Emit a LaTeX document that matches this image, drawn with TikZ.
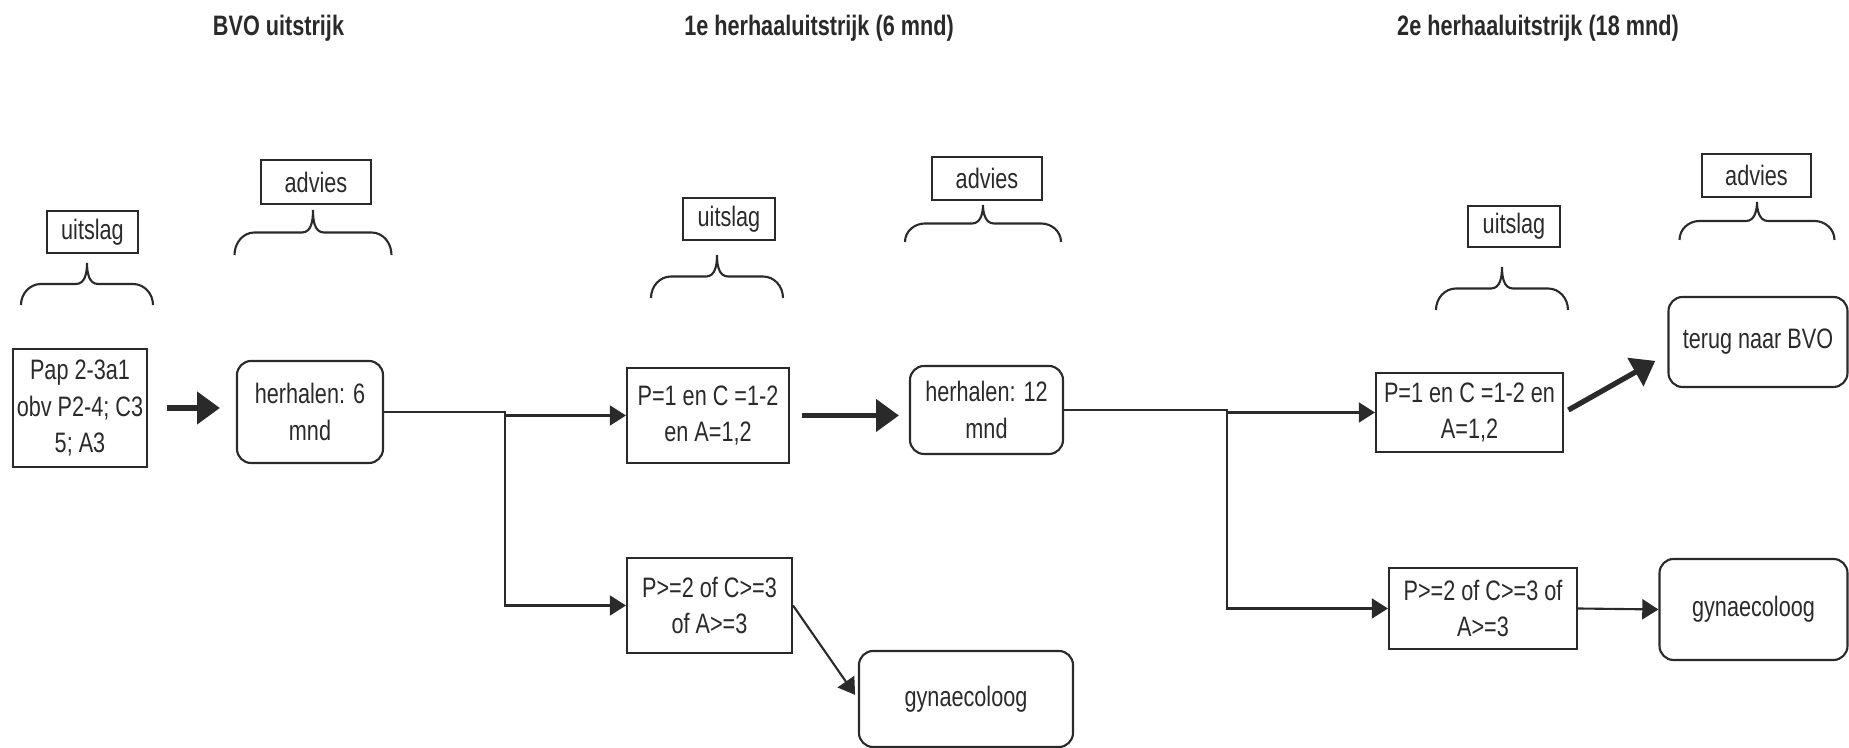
\documentclass[tikz,border=0pt]{standalone}
\usepackage{fontspec}
\setmainfont{Liberation Sans}[FakeStretch=0.77]
\usetikzlibrary{arrows.meta}
\definecolor{inkt}{HTML}{2A2A2A}

% accolade: tip x, tip y, half width, depth
\newcommand{\accolade}[4]{%
  \path[draw,inkt,line width=0.6pt] (#1-#3,#2-#4) to[out=90,in=180] (#1-#3+0.2,#2-#4/2)
    -- (#1-0.11,#2-#4/2) to[out=0,in=-90] (#1,#2) to[out=-90,in=180] (#1+0.11,#2-#4/2)
    -- (#1+#3-0.2,#2-#4/2) to[out=0,in=90] (#1+#3,#2-#4);}

\tikzset{
  every node/.style={font=\fontsize{8}{10.5}\selectfont, text=inkt},
  kop/.style={font=\fontsize{8}{10.5}\selectfont\bfseries},
  kader/.style={draw=inkt, line width=0.6pt, inner sep=0pt, align=center},
  rond/.style={kader, rounded corners=4pt},
  pijl/.style={draw=inkt, line width=0.6pt, -{Triangle[length=4.6pt,width=5.7pt]}},
  dikpijl/.style={draw=inkt, line width=1.5pt, -{Triangle[length=6.5pt,width=9pt]}}
}

\begin{document}
\begin{tikzpicture}
\useasboundingbox (0,0) rectangle (18.49,7.48);

\node[kop] (t1) at (2.785,7.20) {BVO uitstrijk};
\node[kop] (t2) at (8.19,7.20) {1e herhaaluitstrijk (6 mnd)};
\node[kop] (t3) at (15.38,7.20) {2e herhaaluitstrijk (18 mnd)};

\node[kader, minimum width=0.91cm, minimum height=0.42cm] (uit1) at (0.925,5.16) {uitslag};
\node[kader, minimum width=1.10cm, minimum height=0.44cm] (adv1) at (3.16,5.66) {advies};
\node[kader, minimum width=0.92cm, minimum height=0.42cm] (uit2) at (7.29,5.29) {uitslag};
\node[kader, minimum width=1.10cm, minimum height=0.43cm] (adv2) at (9.87,5.695) {advies};
\node[kader, minimum width=0.92cm, minimum height=0.41cm] (uit3) at (15.14,5.215) {uitslag};
\node[kader, minimum width=1.09cm, minimum height=0.43cm] (adv3) at (17.565,5.725) {advies};

\accolade{0.87}{4.85}{0.66}{0.42}
\accolade{3.13}{5.38}{0.785}{0.45}
\accolade{7.17}{4.93}{0.66}{0.43}
\accolade{9.83}{5.43}{0.78}{0.37}
\accolade{15.02}{4.81}{0.66}{0.43}
\accolade{17.57}{5.46}{0.775}{0.38}

\node[kader, minimum width=1.34cm, minimum height=1.18cm] (pap) at (0.80,3.40) {Pap 2-3a1\\obv P2-4; C3\\5; A3};
\node[rond, minimum width=1.46cm, minimum height=1.02cm] (herh6) at (3.10,3.36) {herhalen: 6\\mnd};
\node[kader, minimum width=1.62cm, minimum height=0.95cm] (p1a) at (7.08,3.325) {P=1 en C =1-2\\en A=1,2};
\node[kader, minimum width=1.65cm, minimum height=0.95cm] (p2a) at (7.095,1.425) {P>=2 of C>=3\\of A>=3};
\node[rond, minimum width=1.53cm, minimum height=0.88cm] (herh12) at (9.865,3.38) {herhalen: 12\\mnd};
\node[rond, minimum width=2.14cm, minimum height=0.96cm] (gyn1) at (9.66,0.49) {gynaecoloog};
\node[kader, minimum width=1.87cm, minimum height=0.79cm] (p1b) at (14.695,3.355) {P=1 en C =1-2 en\\A=1,2};
\node[kader, minimum width=1.88cm, minimum height=0.81cm] (p2b) at (14.83,1.395) {P>=2 of C>=3 of\\A>=3};
\node[rond, minimum width=1.79cm, minimum height=0.90cm] (terug) at (17.58,4.06) {terug naar BVO};
\node[rond, minimum width=1.88cm, minimum height=1.01cm] (gyn2) at (17.535,1.385) {gynaecoloog};

\path[dikpijl, shorten <=0.19cm, shorten >=0.16cm] (pap.east) -- (pap.east -| herh6.west);
\path[pijl] (herh6.east) -- ++(1.21,0) |- (p1a.west);
\path[pijl] (herh6.east) -- ++(1.21,0) |- (p2a.west);
\path[dikpijl, shorten <=0.12cm, shorten >=0.10cm] (p1a.east) -- (p1a.east -| herh12.west);
\path[pijl, shorten >=0.05cm] (p2a.east) -- (gyn1.west);
\path[pijl] (herh12.east) -- ++(1.63,0) |- (p1b.west);
\path[pijl] (herh12.east) -- ++(1.63,0) |- (p2b.west);
\path[dikpijl, shorten <=0.05cm, shorten >=0.14cm] (p1b.east) -- ([yshift=-1.2mm]terug.west);
\path[pijl] (p2b.east) -- (gyn2.west);
\end{tikzpicture}
\end{document}
